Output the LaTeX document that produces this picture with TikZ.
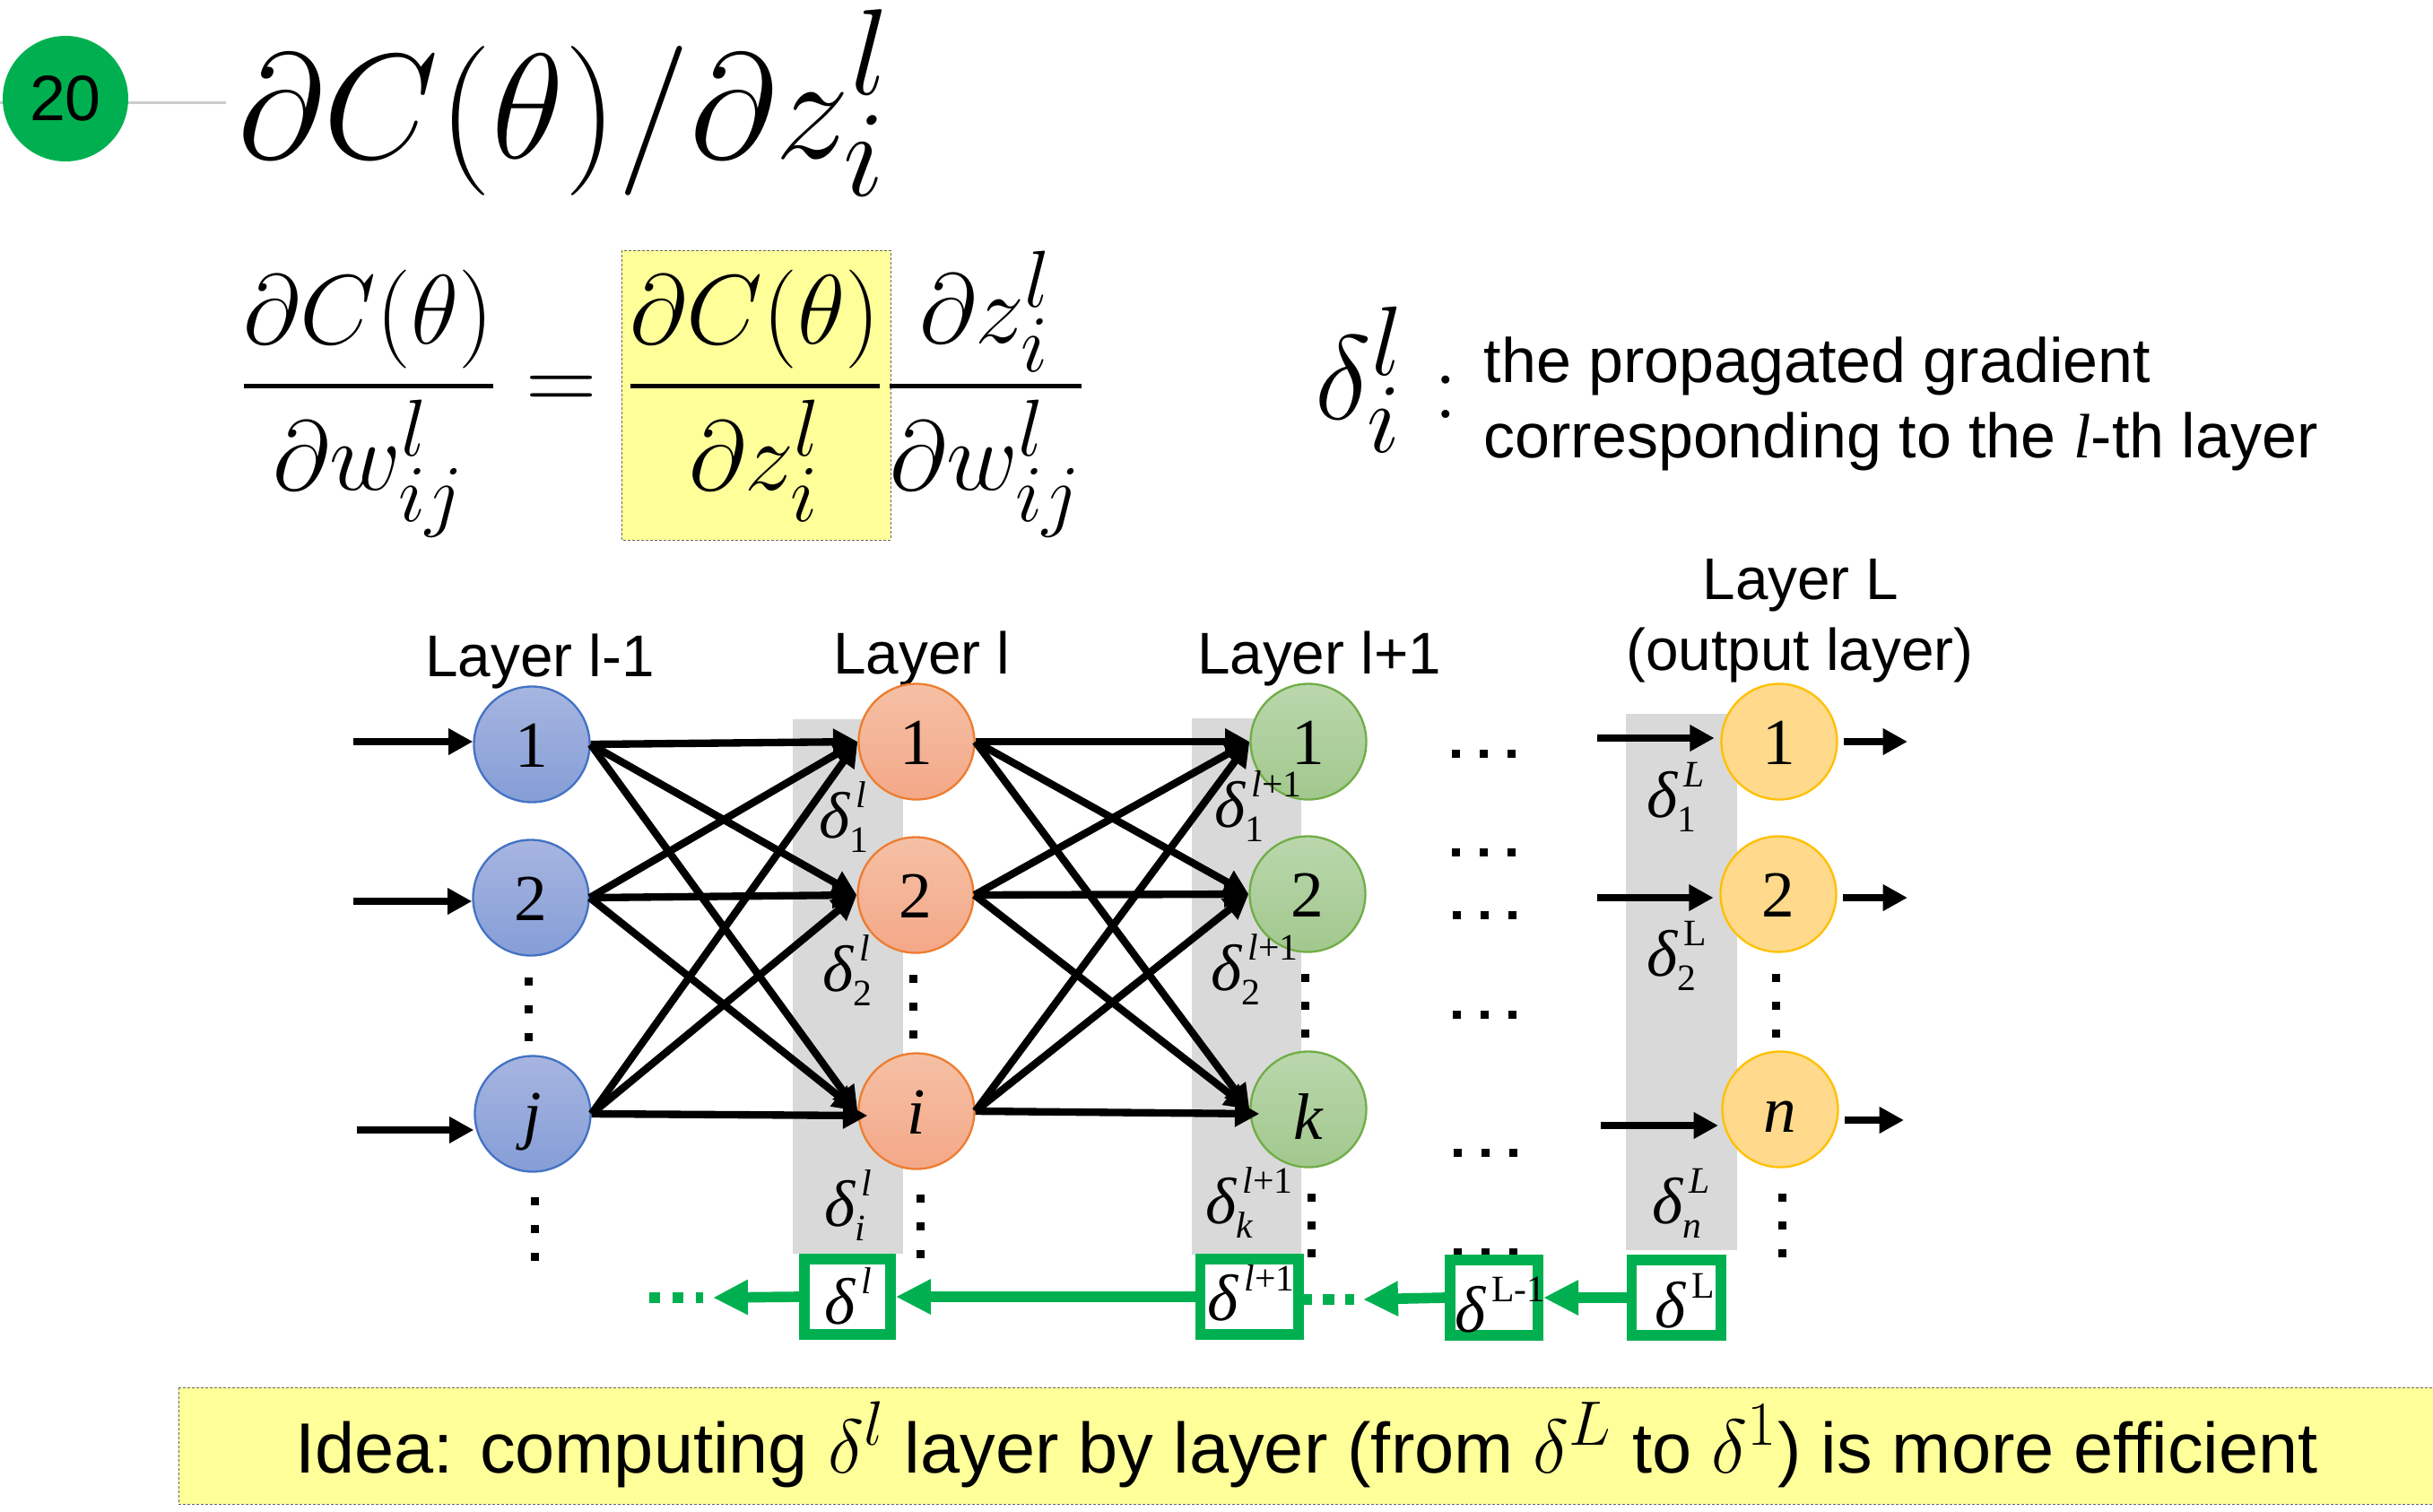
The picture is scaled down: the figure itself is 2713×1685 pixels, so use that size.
\documentclass[tikz,border=0pt]{standalone}
\usepackage{fix-cm}
\usepackage{amsmath}
\usepackage[no-math]{fontspec}
\setmainfont{Liberation Sans}
\newfontfamily\timesfont{Liberation Serif}
\usetikzlibrary{arrows.meta}

\DeclareMathSizes{50}{50}{41}{30}
\DeclareMathSizes{33}{33}{27}{20}
\DeclareMathSizes{40}{40}{33}{25}
\DeclareMathSizes{23.8}{25.5}{21}{15}

\definecolor{markgreen}{HTML}{00B050}
\definecolor{stripgray}{HTML}{D9D9D9}
\definecolor{notefill}{HTML}{FFFF99}
\definecolor{blueline}{HTML}{4472C4}
\definecolor{bluetop}{HTML}{A7B5E0}
\definecolor{bluelow}{HTML}{859ED7}
\definecolor{orangeline}{HTML}{ED7D31}
\definecolor{orangetop}{HTML}{F5C0A5}
\definecolor{orangelow}{HTML}{F4A888}
\definecolor{greenline}{HTML}{70AD47}
\definecolor{greentop}{HTML}{BAD7AC}
\definecolor{greenlow}{HTML}{A2C88E}
\definecolor{yellowline}{HTML}{FFC000}
\definecolor{yellowfill}{HTML}{FFD98C}

% delta with stacked sup and sub
\newcommand{\dsym}[2]{{\timesfont{\fontsize{22}{24}\selectfont\itshape δ}\fontsize{12.5}{14}\selectfont\rlap{\kern2pt\raisebox{10pt}{#1}}\raisebox{-5pt}{#2}}}
\newcommand{\bigfrac}[2]{$\genfrac{}{}{1.35pt}{0}{#1}{#2}$}

\tikzset{
  unit/.style={circle, inner sep=0, minimum size=38.7pt, line width=0.7pt, text height=15pt, text depth=0pt, font=\timesfont\fontsize{22}{24}\selectfont},
  bluenode/.style={unit, draw=blueline, top color=bluetop, bottom color=bluelow},
  orangenode/.style={unit, draw=orangeline, top color=orangetop, bottom color=orangelow},
  greennode/.style={unit, draw=greenline, top color=greentop, bottom color=greenlow},
  yellownode/.style={unit, draw=yellowline, fill=yellowfill},
  blackarrow/.style={line width=2.5pt, -{Triangle[length=8.2pt,width=8.4pt]}},
  greenarrow/.style={line width=3.5pt, markgreen, -{Triangle[length=11.7pt,width=11pt]}},
  dotrow/.style={line width=2.7pt, dash pattern=on 2.7pt off 6.6pt},
  strip/.style={fill=stripgray, draw=none},
  notebox/.style={fill=notefill, draw=black!60, line width=0.3pt, dash pattern=on 0.9pt off 0.6pt},
  greenbox/.style={draw=markgreen, fill=white, line width=3.5pt, inner sep=0, minimum height=25.2pt, text height=18pt, text depth=0pt},
  dlabel/.style={anchor=base west, inner sep=0},
  eqpart/.style={anchor=base, inner sep=0, font=\fontsize{33}{38}\selectfont},
  layertext/.style={anchor=base, inner sep=0, font=\fontsize{19.7}{22}\selectfont}
}

\begin{document}
\begin{tikzpicture}[x=0.3pt, y=-0.3pt]
    \useasboundingbox (0,0) rectangle (2713,1685);

    % header
    \coordinate (headend) at (252,114);
    \coordinate (headstart) at (0,114);
    \draw[line width=0.9pt, black!20] (headstart) -- (headend);
    \node[circle, fill=markgreen, minimum size=42pt, inner sep=0, font=\fontsize{21.5}{24}\selectfont](slidenum) at (73,110) {20};
    \node[anchor=base west, inner sep=0, font=\fontsize{50}{60}\selectfont](bigterm) at (265,176) {$\partial C(\theta)/\partial z_i^{\raisebox{3pt}{$\scriptstyle l$}}$};

    % equation
    \path[notebox] (693,279) rectangle (993,602);
    \node[eqpart](fracleft) at (411,458) {\bigfrac{\partial C(\theta)}{\partial w_{ij}^l}};
    \node[eqpart](equalsign) at (626,458) {$=$};
    \node[eqpart](fracmid) at (842,458) {\bigfrac{\partial C(\theta)}{\partial z_i^l}};
    \node[eqpart](fracright) at (1099,458) {\bigfrac{\partial z_i^l}{\partial w_{ij}^l}};

    % legend
    \node[anchor=base west, inner sep=0, font=\fontsize{40}{48}\selectfont](legendsym) at (1466,467) {$\delta_i^l$};
    \node[anchor=base, inner sep=0, font=\fontsize{33}{40}\selectfont](legendcolon) at (1612,466) {$:$};
    \node[anchor=base west, inner sep=0, font=\fontsize{21}{25}\selectfont](legendone) at (1654,426) {the propagated gradient};
    \node[anchor=base west, inner sep=0, font=\fontsize{21}{25}\selectfont](legendtwo) at (1654,510) {corresponding to the {\timesfont\itshape l}-th layer};

    % gray strips
    \path[strip] (884,802) rectangle (1007,1398);
    \path[strip] (1329,801) rectangle (1451,1399);
    \path[strip] (1813,796) rectangle (1937,1394);

    % layer titles
    \node[layertext](titleA) at (602,754) {Layer l-1};
    \node[layertext](titleB) at (1028,751) {Layer l};
    \node[layertext](titleC) at (1471,751) {Layer l+1};
    \node[layertext](titleD) at (2008,668) {Layer L};
    \node[layertext](titleE) at (2007,747) {(output layer)};

    % units
    \node[bluenode](b1) at (593,830) {1};
    \node[bluenode](b2) at (592,1001) {2};
    \node[bluenode](bj) at (594,1242) {\itshape j};
    \node[orangenode](o1) at (1022,827) {1};
    \node[orangenode](o2) at (1021,998) {2};
    \node[orangenode](oi) at (1022,1239) {\itshape i};
    \node[greennode](g1) at (1459,827) {1};
    \node[greennode](g2) at (1458,997) {2};
    \node[greennode](gk) at (1459,1237) {\raisebox{-2.6pt}{\itshape k}};
    \node[yellownode](y1) at (1984,827) {1};
    \node[yellownode](y2) at (1983,997) {2};
    \node[yellownode](yn) at (1985,1237) {\itshape n};

    % input and output stubs
    \coordinate (inA) at (394,827);
    \coordinate (inB) at (394,1005);
    \coordinate (inC) at (398,1260);
    \coordinate (inD) at (1781,823);
    \coordinate (inE) at (1781,1001);
    \coordinate (inF) at (1785,1255);
    \coordinate (outA) at (2127,827);
    \coordinate (outB) at (2127,1001);
    \coordinate (outC) at (2123,1249);
    \draw[blackarrow] (inA) -- (inA -| b1.west);
    \draw[blackarrow] (inB) -- (inB -| b2.west);
    \draw[blackarrow] (inC) -- (inC -| bj.west);
    \draw[blackarrow, shorten >=2pt] (inD) -- (inD -| y1.west);
    \draw[blackarrow, shorten >=2pt] (inE) -- (inE -| y2.west);
    \draw[blackarrow, shorten >=1pt] (inF) -- (inF -| yn.west);
    \draw[blackarrow, shorten <=2pt] (outA -| y1.east) -- (outA);
    \draw[blackarrow, shorten <=2pt] (outB -| y2.east) -- (outB);
    \draw[blackarrow, shorten <=2pt] (outC -| yn.east) -- (outC);

    % connections
    \draw[blackarrow] (b1.east) -- (o1.west);
    \draw[blackarrow] (b1.east) -- (o2.west);
    \draw[blackarrow] (b1.east) -- (oi.west);
    \draw[blackarrow] (b2.east) -- (o1.west);
    \draw[blackarrow] (b2.east) -- (o2.west);
    \draw[blackarrow] (b2.east) -- (oi.west);
    \draw[blackarrow] (bj.east) -- (o1.west);
    \draw[blackarrow] (bj.east) -- (o2.west);
    \draw[blackarrow] (bj.east) -- ([shift={(3.3pt,-1.5pt)}]oi.west);
    \draw[blackarrow] (o1.east) -- (g1.west);
    \draw[blackarrow] (o1.east) -- (g2.west);
    \draw[blackarrow] (o1.east) -- (gk.west);
    \draw[blackarrow] (o2.east) -- (g1.west);
    \draw[blackarrow] (o2.east) -- (g2.west);
    \draw[blackarrow] (o2.east) -- (gk.west);
    \draw[blackarrow] (oi.east) -- (g1.west);
    \draw[blackarrow] (oi.east) -- (g2.west);
    \draw[blackarrow] (oi.east) -- ([shift={(3.3pt,-1.5pt)}]gk.west);

    % vertical dots
    \draw[dotrow] (589,1090) -- (589,1162);
    \draw[dotrow] (596,1335) -- (596,1407);
    \draw[dotrow] (1018,1087) -- (1018,1159);
    \draw[dotrow] (1026,1332) -- (1026,1404);
    \draw[dotrow] (1455,1086) -- (1455,1158);
    \draw[dotrow] (1462,1331) -- (1462,1403);
    \draw[dotrow] (1980,1086) -- (1980,1158);
    \draw[dotrow] (1987,1331) -- (1987,1403);

    % horizontal dots
    \draw[dotrow] (1619,840) -- (1691,840);
    \draw[dotrow] (1619,950) -- (1691,950);
    \draw[dotrow] (1620,1020) -- (1692,1020);
    \draw[dotrow] (1620,1131) -- (1692,1131);
    \draw[dotrow] (1621,1285) -- (1693,1285);
    \draw[dotrow] (1621,1396) -- (1693,1396);

    % delta labels
    \node[dlabel](dA) at (913,934) {\dsym{\textit{l}}{1}};
    \node[dlabel](dB) at (917,1105) {\dsym{\textit{l}}{2}};
    \node[dlabel](dC) at (919,1367) {\dsym{\textit{l}}{\textit{i}}};
    \node[dlabel](dD) at (1354,922) {\dsym{\textit{l}+1}{1}};
    \node[dlabel](dE) at (1350,1104) {\dsym{\textit{l}+1}{2}};
    \node[dlabel](dF) at (1344,1364) {\dsym{\textit{l}+1}{\textit{k}}};
    \node[dlabel](dG) at (1836,911) {\dsym{\textit{L}}{1}};
    \node[dlabel](dH) at (1836,1088) {\dsym{L}{2}};
    \node[dlabel](dI) at (1842,1364) {\dsym{\textit{L}}{\textit{n}}};

    % green chain
    \coordinate (chainend) at (795,1447);
    \coordinate (dotsA) at (724,1447);
    \coordinate (dotsB) at (784,1447);
    \coordinate (dotsC) at (1450,1449);
    \coordinate (dotsD) at (1510,1449);
    \coordinate (chainmid) at (1520,1449);
    \draw[markgreen, line width=3.4pt, dash pattern=on 3.6pt off 4.2pt] (dotsA) -- (dotsB);
    \draw[markgreen, line width=3.4pt, dash pattern=on 3.9pt off 3.6pt] (dotsC) -- (dotsD);
    \node[greenbox, minimum width=28.8pt](boxA) at (945,1446) {\dsym{\textit{l}}{}\kern4.8pt};
    \node[greenbox, minimum width=32.8pt](boxB) at (1393,1446) {\raisebox{1pt}{\dsym{\textit{l}+1}{}}\kern17.4pt};
    \node[greenbox, minimum width=29.5pt](boxC) at (1666,1447) {\raisebox{-2.4pt}{\dsym{L-1}{}}\kern16pt};
    \node[greenbox, minimum width=29.8pt](boxD) at (1869,1447) {\raisebox{-1pt}{\dsym{L}{}}\kern4pt};
    \draw[greenarrow] (boxD.west) -- (boxC.east);
    \draw[greenarrow] (boxC.west) -- (chainmid);
    \draw[greenarrow] (boxB.west) -- (boxA.east);
    \draw[greenarrow] (boxA.west) -- (chainend);

    % idea note
    \path[notebox] (199,1547) rectangle (2713,1677);
    \node[anchor=base, inner sep=0, font=\fontsize{23.8}{28}\selectfont](ideatext) at (1457,1642) {Idea: computing $\delta^l$ layer by layer (from $\delta^L$ to $\delta^1$) is more efficient};
\end{tikzpicture}
\end{document}
